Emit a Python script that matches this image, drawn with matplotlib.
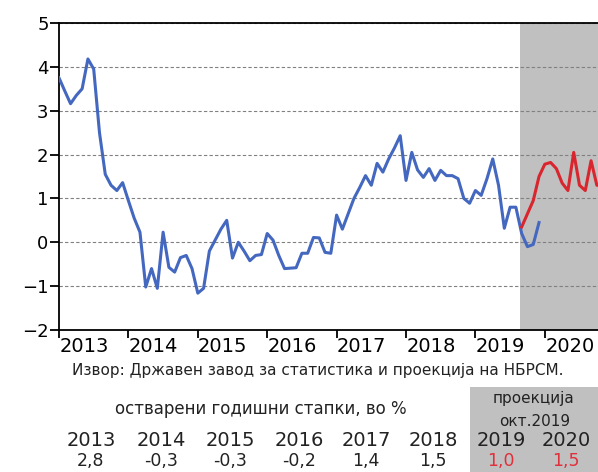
import numpy as np
import matplotlib.pyplot as plt
from matplotlib.patches import Rectangle

# Годишна инфлација (%), месечни податоци од јан.2013
inflacija = [3.75, 3.45, 3.16, 3.35, 3.5, 4.18, 3.95, 2.5, 1.55, 1.3, 1.18, 1.36,
             0.95, 0.55, 0.23, -1.02, -0.6, -1.05, 0.23, -0.57, -0.68, -0.35, -0.3, -0.6,
             -1.16, -1.05, -0.2, 0.05, 0.3, 0.5, -0.36, 0.0, -0.2, -0.42, -0.3, -0.28,
             0.2, 0.05, -0.3, -0.6, -0.59, -0.58, -0.25, -0.25, 0.11, 0.1, -0.23, -0.25,
             0.62, 0.3, 0.65, 1.0, 1.25, 1.52, 1.3, 1.8, 1.6, 1.9, 2.15, 2.43,
             1.41, 2.05, 1.65, 1.48, 1.68, 1.41, 1.64, 1.52, 1.52, 1.45, 1.0, 0.89,
             1.18, 1.07, 1.45, 1.9, 1.3, 0.32, 0.8, 0.8, 0.2, -0.1, -0.05, 0.45]
# Проекција (окт.2019), почнува од месец 80
proekcija_start = 80
proekcija = [0.35, 0.65, 0.95, 1.5, 1.78, 1.82, 1.68, 1.35, 1.18, 2.05, 1.3, 1.18,
             1.86, 1.3, 1.3]

godini = [2013, 2014, 2015, 2016, 2017, 2018, 2019, 2020]
godishni = ['2,8', '-0,3', '-0,3', '-0,2', '1,4', '1,5', '1,0', '1,5']

x_inf = 2013 + np.arange(len(inflacija)) / 12
x_pro = 2013 + (proekcija_start + np.arange(len(proekcija))) / 12

fig = plt.figure(figsize=(5.98, 4.72), dpi=100)
ax = fig.add_axes([59 / 598, 1 - 330 / 472, 539 / 598, 307 / 472])

siva = '#c0c0c0'
ax.axvspan(2013 + 7.7 / 12 + 6, 2022, color=siva, lw=0, zorder=0.1)
ax.plot(x_inf, inflacija, color='#4468c0', lw=2.2, zorder=3)
ax.plot(x_pro, proekcija, color='#d9262e', lw=2.2, zorder=3)

ax.set_xlim(2013, 2013 + 539 / 69.4)
ax.set_ylim(-2, 5)
ax.set_yticks(range(-2, 6))
ax.yaxis.grid(True, color='#808080', lw=0.8, ls=(0, (3, 2)))
ax.set_axisbelow(True)

ax.set_xticks(godini)
ax.set_xticklabels([])
ax.set_xticks([g + 0.36 for g in godini], minor=True)
ax.set_xticklabels([str(g) for g in godini], minor=True, fontsize=14)
ax.tick_params(axis='x', which='major', direction='out', length=6, width=1.3)
ax.tick_params(axis='x', which='minor', length=0, pad=5)
ax.tick_params(axis='y', direction='out', length=6.5, width=1.3, labelsize=13, pad=1)

for s in ['top', 'bottom', 'left']:
    ax.spines[s].set_linewidth(1.3)
ax.spines['right'].set_visible(False)

# Извор
fig.text(318 / 598, 1 - 370 / 472, 'Извор: Државен завод за статистика и проекција на НБРСМ.',
         ha='center', va='center', fontsize=11, color='#222222')

# Табела со годишни стапки
fig.add_artist(Rectangle((470 / 598, 0), 128 / 598, 85 / 472,
                         transform=fig.transFigure, color=siva, lw=0, zorder=0))
fig.text(261 / 598, 1 - 409 / 472, 'остварени годишни стапки, во %',
         ha='center', va='center', fontsize=12, color='#222222')
fig.text(533 / 598, 1 - 398 / 472, 'проекција', ha='center', va='center', fontsize=11,
         color='#222222')
fig.text(535 / 598, 1 - 421 / 472, 'окт.2019', ha='center', va='center', fontsize=11,
         color='#222222')

x_tab = [91, 161, 230, 299, 366, 433, 501, 566]
for i in range(len(godini)):
    fig.text(x_tab[i] / 598, 1 - 441 / 472, str(godini[i]), ha='center', va='center',
             fontsize=14, color='#222222')
    boja = '#e0303c' if godini[i] >= 2019 else '#222222'
    fig.text(x_tab[i] / 598, 1 - 461 / 472, godishni[i], ha='center', va='center',
             fontsize=12.5, color=boja)

fig.savefig('out.png', dpi=100)
